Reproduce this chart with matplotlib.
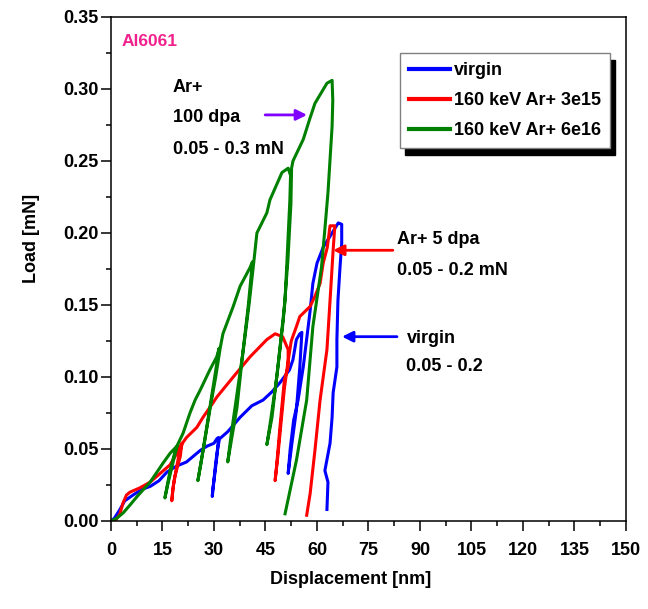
import matplotlib
matplotlib.use("Agg")
import matplotlib.pyplot as plt
from matplotlib.ticker import MultipleLocator

plt.rcParams['font.family'] = ['Liberation Sans', 'DejaVu Sans']
plt.rcParams['font.weight'] = 'bold'

# Load-displacement data (multi-cycle nanoindentation), displacement in nm, load in mN
virgin_disp = [0, 1, 2.6, 4, 6.4, 9, 11.4, 14, 16.3, 19, 22, 24, 26, 28, 30, 30.8, 31.3,
               31.0, 30.5, 30.0, 29.6, 29.5,
               29.9, 30.4, 30.9, 31.6,
               34, 37.6, 41, 44.3, 47, 49.2, 52, 53, 54, 55, 55.6,
               55.0, 54.0, 52.7, 51.6,
               52.2, 53.2, 54.5, 56, 58, 58.8, 60, 61.8, 64.4, 66.2, 67.2,
               67.2, 66.7, 66.1, 65.8, 65.8, 64.7, 64.4, 63.8, 62.3, 63.2, 62.9]
virgin_load = [0, 0.002, 0.008, 0.014, 0.018, 0.022, 0.024, 0.028, 0.034, 0.038, 0.041, 0.045, 0.049, 0.052, 0.054, 0.057, 0.058,
               0.048, 0.038, 0.028, 0.021, 0.017,
               0.027, 0.038, 0.048, 0.057,
               0.062, 0.072, 0.080, 0.084, 0.090, 0.096, 0.105, 0.112, 0.126, 0.130, 0.131,
               0.107, 0.077, 0.054, 0.033,
               0.050, 0.070, 0.084, 0.107, 0.146, 0.165, 0.179, 0.190, 0.200, 0.207, 0.206,
               0.193, 0.176, 0.153, 0.126, 0.107, 0.089, 0.072, 0.054, 0.035, 0.027, 0.008]

ar3e15_disp = [0, 1.5, 2.6, 3.5, 4.5, 5.5, 8.4, 11.4, 14.3, 17.2, 19.2, 20.6,
               20.2, 19.4, 18.6, 18.0, 17.7,
               18.2, 19.0, 19.8, 20.8,
               22, 25, 26.8, 29.7, 30.8, 35.6, 40.5, 45.4, 47.8,
               50, 51.6, 51.6, 50.5, 49.2, 48.3, 47.8,
               48.6, 49.6, 50.5, 51.4, 52.5, 54, 55, 58, 59.4, 60.9, 61.8, 63, 63.8, 65.2,
               64.7, 63.8, 62.9, 60.9, 59.4, 58, 57]
ar3e15_load = [0, 0.001, 0.005, 0.0125, 0.018, 0.020, 0.023, 0.027, 0.033, 0.039, 0.047, 0.054,
               0.045, 0.038, 0.031, 0.022, 0.014,
               0.025, 0.036, 0.046, 0.054,
               0.058, 0.065, 0.072, 0.082, 0.086, 0.100, 0.114, 0.126, 0.130,
               0.128, 0.119, 0.107, 0.098, 0.065, 0.040, 0.028,
               0.045, 0.070, 0.092, 0.108, 0.125, 0.135, 0.142, 0.149, 0.156, 0.165, 0.179, 0.190, 0.205, 0.205,
               0.188, 0.153, 0.119, 0.084, 0.049, 0.019, 0.004]

ar6e16_disp = [0, 1.7, 3.5, 5.5, 7.6, 9.3, 11.4, 13.4, 15.1, 17.2, 19.2,
               18.5, 17.6, 16.6, 15.7,
               16.4, 17.3, 18.4, 19.4,
               21, 23, 24.5, 26, 28.8, 30.8, 31.5,
               30.2, 28.8, 26.8, 25.3,
               26.2, 27.6, 29, 30.5, 31.8,
               32.6, 35.6, 37.6, 40.5, 41.2,
               40, 38.5, 36.7, 34,
               35, 36.8, 38.6, 40.2, 41.6,
               42.5, 45.4, 46.3, 49.8, 51.6, 52.3,
               52.1, 50.7, 48.6, 46.9, 45.4,
               46.5, 48.3, 50.2, 51.5, 52.4, 52.6,
               53, 56, 58, 59.4, 62.9, 64.4,
               64.6, 64.4, 63.2, 62.2, 61.3, 58.8, 57, 54, 50.7]
ar6e16_load = [0, 0.002, 0.0055, 0.011, 0.017, 0.0215, 0.027, 0.034, 0.040, 0.047, 0.052,
               0.045, 0.036, 0.026, 0.016,
               0.025, 0.036, 0.046, 0.053,
               0.061, 0.075, 0.084, 0.091, 0.105, 0.114, 0.120,
               0.100, 0.079, 0.049, 0.028,
               0.040, 0.060, 0.080, 0.100, 0.120,
               0.130, 0.149, 0.163, 0.176, 0.180,
               0.150, 0.119, 0.079, 0.041,
               0.060, 0.090, 0.120, 0.150, 0.180,
               0.200, 0.214, 0.223, 0.242, 0.245, 0.240,
               0.223, 0.153, 0.107, 0.072, 0.053,
               0.070, 0.100, 0.140, 0.180, 0.220, 0.245,
               0.250, 0.265, 0.280, 0.290, 0.304, 0.306,
               0.292, 0.274, 0.228, 0.200, 0.176, 0.135, 0.084, 0.042, 0.005]

series_labels = ['virgin', '160 keV Ar+ 3e15', '160 keV Ar+ 6e16']
series_colors = ['#0000ff', '#ff0000', '#008000']
x_ticks = [0, 15, 30, 45, 60, 75, 90, 105, 120, 135, 150]
y_ticks = [0.00, 0.05, 0.10, 0.15, 0.20, 0.25, 0.30, 0.35]

fig = plt.figure(figsize=(6.48, 6.09), dpi=100)
ax = fig.add_axes([0.1713, 0.1445, 0.7947, 0.8276])

curves = [(virgin_disp, virgin_load), (ar3e15_disp, ar3e15_load), (ar6e16_disp, ar6e16_load)]
for (xd, yd), lab, col in zip(curves, series_labels, series_colors):
    ax.plot(xd, yd, color=col, lw=2.2, label=lab, solid_joinstyle='round')

ax.set_xlim(0, 150)
ax.set_ylim(0, 0.35)
ax.set_xticks(x_ticks)
ax.set_yticks(y_ticks)
ax.set_xticklabels([str(t) for t in x_ticks])
ax.set_yticklabels([f"{t:.2f}" for t in y_ticks])
ax.xaxis.set_minor_locator(MultipleLocator(7.5))
ax.yaxis.set_minor_locator(MultipleLocator(0.025))
ax.tick_params(axis='both', which='major', direction='out', length=7, width=1.1,
               labelsize=13)
ax.tick_params(axis='both', which='minor', direction='out', length=3.5, width=1.1)
ax.tick_params(axis='x', which='major', pad=8)
ax.tick_params(axis='y', which='major', pad=2)
for lbl in ax.get_xticklabels() + ax.get_yticklabels():
    lbl.set_fontweight('bold')
for sp in ax.spines.values():
    sp.set_linewidth(1.1)

ax.set_xlabel('Displacement [nm]', fontsize=13, fontweight='bold')
ax.set_ylabel('Load [mN]', fontsize=13, fontweight='bold')
ax.xaxis.set_label_coords(0.466, -0.100)
ax.yaxis.set_label_coords(-0.138, 0.561)

leg = ax.legend(loc='upper left', bbox_to_anchor=(0.561, 0.9286), fontsize=13,
                frameon=True, fancybox=False, handlelength=2.3, handletextpad=0.2,
                labelspacing=0.72, borderpad=0.5, borderaxespad=0,
                shadow={'ox': 3.6, 'oy': -5, 'facecolor': 'black',
                        'edgecolor': 'black', 'alpha': 1.0})
leg.get_frame().set_edgecolor('#808080')
leg.get_frame().set_linewidth(1.0)
for t in leg.get_texts():
    t.set_fontweight('bold')
for h in leg.get_lines():
    h.set_linewidth(3)

# Annotations
ax.text(3.2, 0.333, 'Al6061', color='#f0208c', fontsize=12.5, fontweight='bold', va='center')
ax.text(18.06, 0.3007, 'Ar+', fontsize=13, fontweight='bold', va='center')
ax.text(18.06, 0.2799, '100 dpa', fontsize=13, fontweight='bold', va='center')
ax.text(18.06, 0.2583, '0.05 - 0.3 mN', fontsize=13, fontweight='bold', va='center')
ax.text(83.3, 0.1958, 'Ar+ 5 dpa', fontsize=13, fontweight='bold', va='center')
ax.text(83.3, 0.1743, '0.05 - 0.2 mN', fontsize=13, fontweight='bold', va='center')
ax.text(86.2, 0.127, 'virgin', fontsize=13, fontweight='bold', va='center')
ax.text(86.0, 0.107, '0.05 - 0.2', fontsize=13, fontweight='bold', va='center')

arrow_kw = dict(arrowstyle='-|>', lw=2, mutation_scale=16, shrinkA=0, shrinkB=0)
ax.annotate('', xy=(57.1, 0.282), xytext=(44.9, 0.282),
            arrowprops=dict(color='#8000ff', **arrow_kw))
ax.annotate('', xy=(64.7, 0.188), xytext=(82.1, 0.188),
            arrowprops=dict(color='#ff0000', **arrow_kw))
ax.annotate('', xy=(67.3, 0.128), xytext=(83.3, 0.128),
            arrowprops=dict(color='#0000ff', **arrow_kw))

fig.savefig('out.png', dpi=100)
